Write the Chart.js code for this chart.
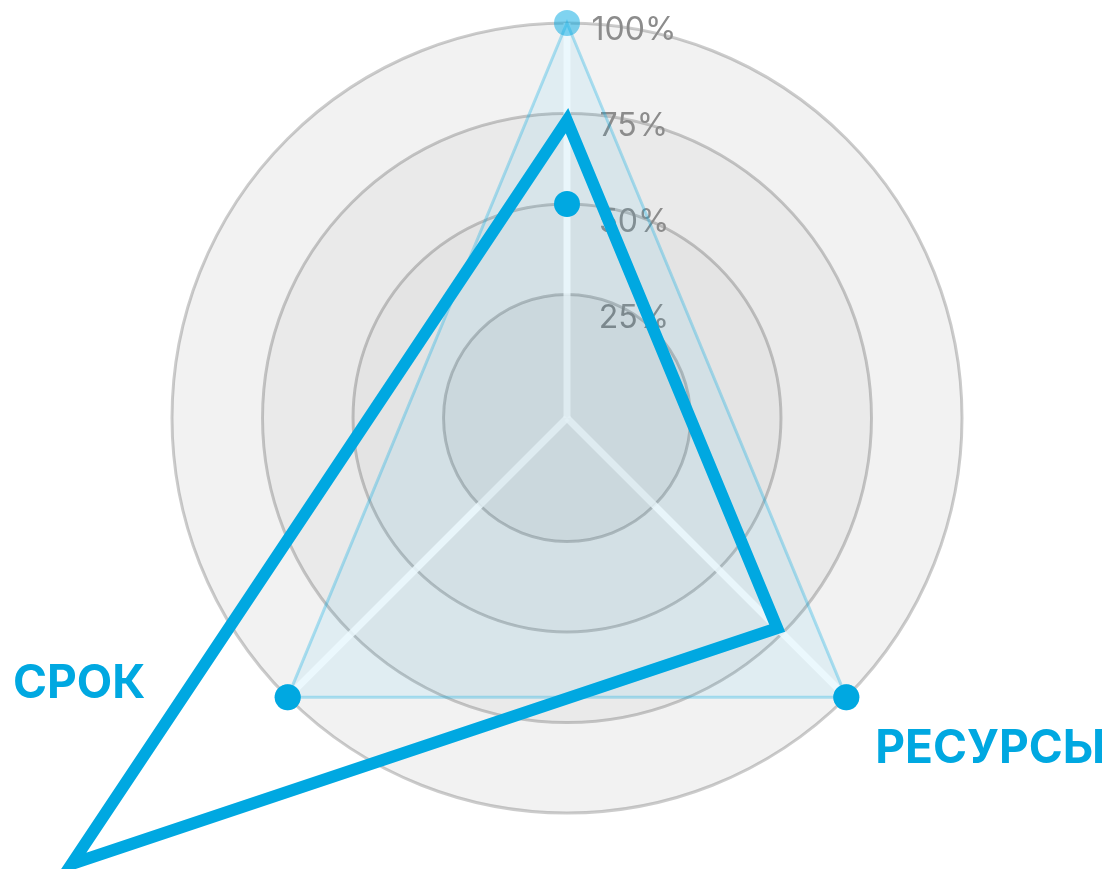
<!DOCTYPE html>
<html>
<head>
<meta charset="utf-8">
<script src="https://cdn.jsdelivr.net/npm/chart.js@4.4.1/dist/chart.umd.min.js"></script>
<style>
  html, body { margin: 0; padding: 0; background: #ffffff; overflow: hidden; }
  #wrap { width: 1114px; height: 869px; overflow: hidden; position: relative; }
  canvas { display: block; }
</style>
</head>
<body>
<div id="wrap"><canvas id="c" width="1134" height="869"></canvas></div>
<script>
// ---------- data ----------
const categories   = ['', 'РЕСУРСЫ', 'СРОК'];   // top axis has no visible caption
const planValues   = [100, 100, 100];           // light triangle
const factValues   = [73, 73, 175];             // thick blue line
const markerValues = [50, 100, 100];            // solid blue dots
const tickValues   = [25, 50, 75, 100];
const tickLabels   = ['25%', '50%', '75%', '100%'];

// ---------- layout (angular slots of 3°, paddings, offsets) ----------
const SLOTS = 120;
const axisSlots      = [0, 45, 75];
const factSlots      = [0, 45, 76];
const captionSlots   = [0, 45, 80];
const captionPadding = [0, 41, 92];
const tickLabelDrop  = [24, 18.5, 12.5, 7];
const SCALE_MIN = -9.1;
const TICK_PAD = '\u2003\u2003\u2003\u2003\u2009';
const BLUE = '#00a8e1';

function spread(values, slots) {
  const out = new Array(SLOTS).fill(null);
  values.forEach((v, i) => { out[slots[i]] = v; });
  return out;
}
const slotLabels = spread(categories, captionSlots).map(l => (l == null ? '' : l));

const bandsPlugin = {
  id: 'bands',
  beforeDraw(chart) {
    const s = chart.scales.r;
    const ctx = chart.ctx;
    const fills = [[100, 'rgba(0,0,0,0.05)'], [75, 'rgba(0,0,0,0.037)'], [50, 'rgba(0,0,0,0.026)']];
    ctx.save();
    fills.forEach(([v, c]) => {
      ctx.beginPath();
      ctx.arc(s.xCenter, s.yCenter, s.getDistanceFromCenterForValue(v), 0, Math.PI * 2);
      ctx.fillStyle = c;
      ctx.fill();
    });
    ctx.restore();
  },
  beforeDatasetsDraw(chart) {
    const s = chart.scales.r;
    const ctx = chart.ctx;
    ctx.save();
    ctx.beginPath();
    ctx.arc(s.xCenter, s.yCenter, s.getDistanceFromCenterForValue(tickValues[0]), 0, Math.PI * 2);
    ctx.fillStyle = 'rgba(0,0,0,0.04)';
    ctx.fill();
    ctx.restore();
  }
};

function draw() {
  new Chart(document.getElementById('c'), {
    type: 'radar',
    data: {
      labels: slotLabels,
      datasets: [
        {
          label: 'plan',
          data: spread(planValues, axisSlots),
          order: 3,
          spanGaps: true,
          fill: 'start',
          backgroundColor: 'rgba(0,168,230,0.08)',
          borderColor: 'rgba(0,168,225,0.3)',
          borderWidth: 3,
          pointRadius: 13,
          pointHoverRadius: 13,
          pointBackgroundColor: 'rgba(0,168,225,0.5)',
          pointBorderWidth: 0,
          clip: false
        },
        {
          label: 'fact',
          data: spread(factValues, factSlots),
          order: 2,
          spanGaps: true,
          fill: false,
          borderColor: BLUE,
          borderWidth: 12,
          borderJoinStyle: 'miter',
          pointRadius: 0,
          pointHoverRadius: 0,
          clip: false
        },
        {
          label: 'markers',
          data: spread(markerValues, axisSlots),
          order: 1,
          showLine: false,
          fill: false,
          pointRadius: 13,
          pointHoverRadius: 13,
          pointBackgroundColor: BLUE,
          pointBorderWidth: 0,
          clip: false
        }
      ]
    },
    options: {
      responsive: false,
      animation: false,
      devicePixelRatio: 1,
      layout: { padding: { top: 23, bottom: 55, left: 0, right: 0 } },
      plugins: { legend: { display: false }, tooltip: { enabled: false } },
      scales: {
        r: {
          min: SCALE_MIN,
          max: 100,
          startAngle: 0,
          afterBuildTicks: (scale) => {
            scale.ticks = [{ value: SCALE_MIN }].concat(tickValues.map(v => ({ value: v })));
          },
          grid: {
            circular: true,
            lineWidth: 3,
            color: (ctx) => (ctx.tick && ctx.tick.value > 0 ? 'rgba(0,0,0,0.2)' : 'rgba(0,0,0,0)')
          },
          angleLines: {
            display: true,
            color: 'rgba(255,255,255,0.85)',
            lineWidth: (ctx) => (axisSlots.includes(ctx.index) ? 7 : 0)
          },
          ticks: {
            display: true,
            showLabelBackdrop: false,
            backdropPadding: { top: -16, bottom: -16, left: 0, right: 0 },
            color: '#8c8c8c',
            font: (ctx) => {
              const i = ctx.tick ? tickValues.indexOf(ctx.tick.value) : -1;
              return { family: 'Inter', size: 32, weight: '400', lineHeight: i >= 0 ? tickLabelDrop[i] + 'px' : 1.2 };
            },
            callback: (value) => {
              const i = tickValues.indexOf(value);
              return i >= 0 ? ['', TICK_PAD + tickLabels[i]] : '';
            }
          },
          pointLabels: {
            display: true,
            color: BLUE,
            padding: (ctx) => {
              const k = captionSlots.indexOf(ctx.index);
              return k >= 0 ? captionPadding[k] : 0;
            },
            font: (ctx) => (slotLabels[ctx.index]
              ? { family: 'Inter', size: 46, weight: 'bold', lineHeight: 1 }
              : { family: 'Inter', size: 12, lineHeight: '0px' })
          }
        }
      }
    },
    plugins: [bandsPlugin]
  });
}

Promise.all([
  document.fonts.load('400 32px Inter'),
  document.fonts.load('bold 46px Inter')
]).then(draw, draw);
</script>
</body>
</html>
